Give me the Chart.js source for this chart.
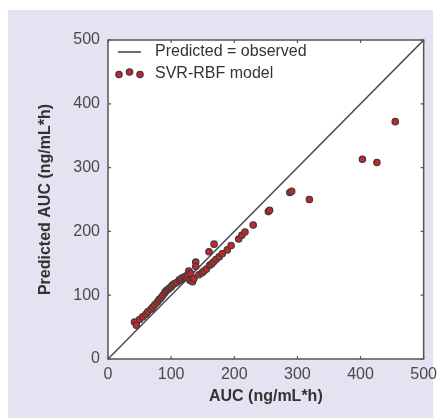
<!DOCTYPE html>
<html>
<head>
<meta charset="utf-8">
<script src="https://cdn.jsdelivr.net/npm/chart.js@4"></script>
<style>
  body { margin: 0; background: #fff; }
</style>
</head>
<body>
<canvas id="chart" width="443" height="418"></canvas>
<script>
// observed AUC vs SVR-RBF predicted AUC (ng/mL*h)
const observedAUC = [42, 45, 50, 55, 60, 63, 68, 71, 74, 78, 81, 84, 87, 90, 92, 95, 97, 100, 102, 105,
    109, 113, 116, 117, 121, 124, 126, 128, 130, 131, 134, 136, 139, 139, 144, 149, 152, 156, 160, 161,
    164, 167, 168, 171, 176, 181, 189, 195, 207, 212, 217, 230, 254, 256, 288, 291, 319, 403, 426, 455];
const predictedAUC = [58, 53, 62, 66, 70, 74, 78, 81, 85, 89, 93, 96, 100, 104, 107, 109, 111, 113, 116, 118,
    120, 124, 124, 127, 129, 128, 132, 138, 123, 134, 121, 126, 152, 145, 132, 135, 138, 141, 168, 147,
    149, 152, 180, 156, 160, 165, 171, 178, 188, 194, 199, 210, 231, 233, 261, 263, 250, 313, 308, 372];
const identityLine = [0, 500];
const tickValues = [0, 100, 200, 300, 400, 500];
const seriesLabels = ['Predicted = observed', 'SVR-RBF model'];

const font = 'Liberation Sans, Arial, Helvetica, sans-serif';
const frameColor = '#555';
const lineColor = '#4a4a4a';
const dotFill = '#c4262d';
const dotEdge = '#3c3c3c';

function drawDot(ctx, x, y) {
    ctx.beginPath();
    ctx.arc(x, y, 3.2, 0, Math.PI * 2);
    ctx.fillStyle = dotFill;
    ctx.fill();
    ctx.lineWidth = 1.2;
    ctx.strokeStyle = dotEdge;
    ctx.stroke();
}

const framePlugin = {
    id: 'frame',
    beforeDraw(chart) {
        const ctx = chart.ctx;
        const a = chart.chartArea;
        ctx.save();
        ctx.fillStyle = '#e5e2f1';
        ctx.fillRect(8, 10, 425, 408);
        ctx.fillStyle = '#fff';
        ctx.fillRect(a.left, a.top, a.right - a.left, a.bottom - a.top);
        ctx.restore();
    },
    afterDraw(chart) {
        const ctx = chart.ctx;
        const a = chart.chartArea;
        const xs = chart.scales.x, ys = chart.scales.y;
        ctx.save();
        ctx.strokeStyle = frameColor;
        ctx.lineWidth = 1.5;
        ctx.strokeRect(a.left, a.top, a.right - a.left, a.bottom - a.top);
        ctx.lineWidth = 1.2;
        ctx.beginPath();
        tickValues.forEach(v => {
            const px = xs.getPixelForValue(v);
            const py = ys.getPixelForValue(v);
            ctx.moveTo(px, a.bottom); ctx.lineTo(px, a.bottom - 3);
            ctx.moveTo(px, a.top); ctx.lineTo(px, a.top + 3);
            ctx.moveTo(a.left, py); ctx.lineTo(a.left + 3, py);
            ctx.moveTo(a.right, py); ctx.lineTo(a.right - 3, py);
        });
        ctx.stroke();

        // legend in the top-left corner of the plot
        const lx = a.left + 10, ty = a.top + 12;
        ctx.strokeStyle = lineColor;
        ctx.lineWidth = 1.6;
        ctx.beginPath();
        ctx.moveTo(lx, ty);
        ctx.lineTo(lx + 23, ty);
        ctx.stroke();
        drawDot(ctx, lx + 1, ty + 22.5);
        drawDot(ctx, lx + 11.5, ty + 20);
        drawDot(ctx, lx + 22, ty + 22.5);
        ctx.fillStyle = '#333';
        ctx.font = '16px ' + font;
        ctx.textBaseline = 'middle';
        ctx.fillText(seriesLabels[0], lx + 37, ty);
        ctx.fillText(seriesLabels[1], lx + 37, ty + 21.5);
        ctx.restore();
    }
};

new Chart(document.getElementById('chart'), {
    type: 'scatter',
    data: {
        datasets: [{
            label: seriesLabels[1],
            data: observedAUC.map((v, i) => ({ x: v, y: predictedAUC[i] })),
            backgroundColor: dotFill,
            borderColor: dotEdge,
            borderWidth: 1.2,
            pointRadius: 3.2
        }, {
            type: 'line',
            label: seriesLabels[0],
            data: identityLine.map(v => ({ x: v, y: v })),
            borderColor: lineColor,
            borderWidth: 1.5,
            pointRadius: 0,
            fill: false
        }]
    },
    options: {
        responsive: false,
        animation: false,
        layout: { padding: { left: 20, right: 16, top: 40, bottom: 0 } },
        plugins: {
            tooltip: { enabled: false },
            legend: { display: false }
        },
        scales: {
            x: {
                type: 'linear',
                min: 0,
                max: 500,
                grid: { display: false, drawTicks: false },
                border: { display: false },
                afterFit(scale) { scale.height = 59; },
                ticks: {
                    stepSize: 100,
                    padding: 6,
                    color: '#4a4a4a',
                    font: { family: font, size: 16 }
                },
                title: {
                    display: true,
                    text: 'AUC (ng/mL*h)',
                    color: '#333',
                    padding: { top: 0, bottom: 12 },
                    font: { family: font, size: 16, weight: 'bold' }
                }
            },
            y: {
                type: 'linear',
                min: 0,
                max: 500,
                grid: { display: false, drawTicks: false },
                border: { display: false },
                afterFit(scale) { scale.width = 88; },
                ticks: {
                    stepSize: 100,
                    padding: 8,
                    color: '#4a4a4a',
                    font: { family: font, size: 16 }
                },
                title: {
                    display: true,
                    text: 'Predicted AUC (ng/mL*h)',
                    color: '#333',
                    padding: { top: 16, bottom: 0 },
                    font: { family: font, size: 16, weight: 'bold' }
                }
            }
        }
    },
    plugins: [framePlugin]
});
</script>
</body>
</html>
